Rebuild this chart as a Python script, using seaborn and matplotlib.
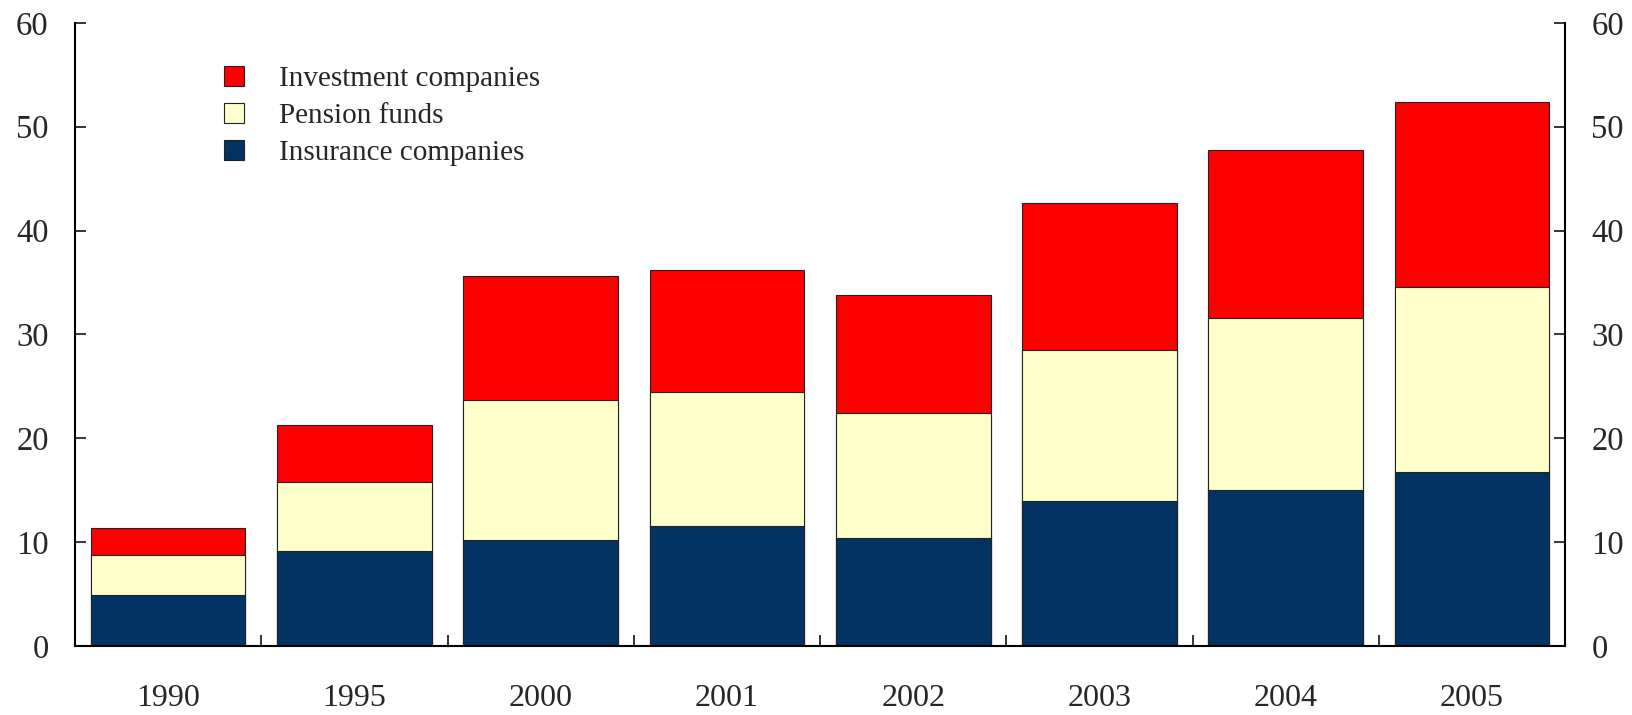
import matplotlib.pyplot as plt
import seaborn as sns
import pandas as pd
import numpy as np
from matplotlib.patches import Patch
from matplotlib.ticker import FixedLocator

years = ["1990", "1995", "2000", "2001", "2002", "2003", "2004", "2005"]
insurance = [4.95, 9.15, 10.2, 11.55, 10.4, 14.0, 15.0, 16.8]
pension = [3.8, 6.65, 13.5, 12.95, 12.05, 14.5, 16.55, 17.8]
investment = [2.65, 5.5, 11.9, 11.7, 11.35, 14.2, 16.2, 17.8]

sns.set_style("ticks")
plt.rcParams["font.family"] = ["Liberation Serif", "DejaVu Serif"]
plt.rcParams["font.size"] = 23

c_ins = "#023363"
c_pen = "#FFFFCC"
c_inv = "#FF0000"

df = pd.DataFrame({"year": years, "ins": insurance, "pen": pension, "inv": investment})
df["lvl2"] = df["ins"] + df["pen"]
df["lvl3"] = df["lvl2"] + df["inv"]

fig, ax = plt.subplots(figsize=(16.32, 7.15), dpi=100)
fig.subplots_adjust(left=0.046, right=0.959, top=0.968, bottom=0.0965)

# stacked bars: draw cumulative totals back to front
for col, color in [("lvl3", c_inv), ("lvl2", c_pen), ("ins", c_ins)]:
    sns.barplot(data=df, x="year", y=col, color=color, width=0.83,
                edgecolor="#222222", linewidth=0.8, saturation=1, ax=ax)

ax.set_xlim(-0.5, len(years) - 0.5)
ax.set_ylim(0, 60)
ax.set_yticks(range(0, 61, 10))
ax.set_xlabel("")
ax.set_ylabel("")

ax.spines["top"].set_visible(False)
for s in ["left", "right", "bottom"]:
    ax.spines[s].set_linewidth(1.5)
    ax.spines[s].set_color("black")

ax.tick_params(axis="y", which="major", direction="in", length=8, width=1.3,
               labelsize=23.5, left=True, right=True, labelleft=True, labelright=True, pad=19)
ax.tick_params(axis="x", which="major", length=0, labelsize=23, pad=27)
ax.xaxis.set_minor_locator(FixedLocator(np.arange(0.5, len(years) - 1, 1)))
ax.tick_params(axis="x", which="minor", direction="in", length=8, width=1.3)

handles = [Patch(facecolor=c_inv, edgecolor="#222222", linewidth=0.8, label="Investment companies"),
           Patch(facecolor=c_pen, edgecolor="#222222", linewidth=0.8, label="Pension funds"),
           Patch(facecolor=c_ins, edgecolor="#222222", linewidth=0.8, label="Insurance companies")]
ax.legend(handles=handles, loc="upper left", bbox_to_anchor=(0.092, 0.95), frameon=False,
          fontsize=21, handlelength=0.69, handleheight=0.69, handletextpad=1.2,
          labelspacing=0.37, borderaxespad=0)

plt.savefig("out.png", dpi=100)
plt.close()
